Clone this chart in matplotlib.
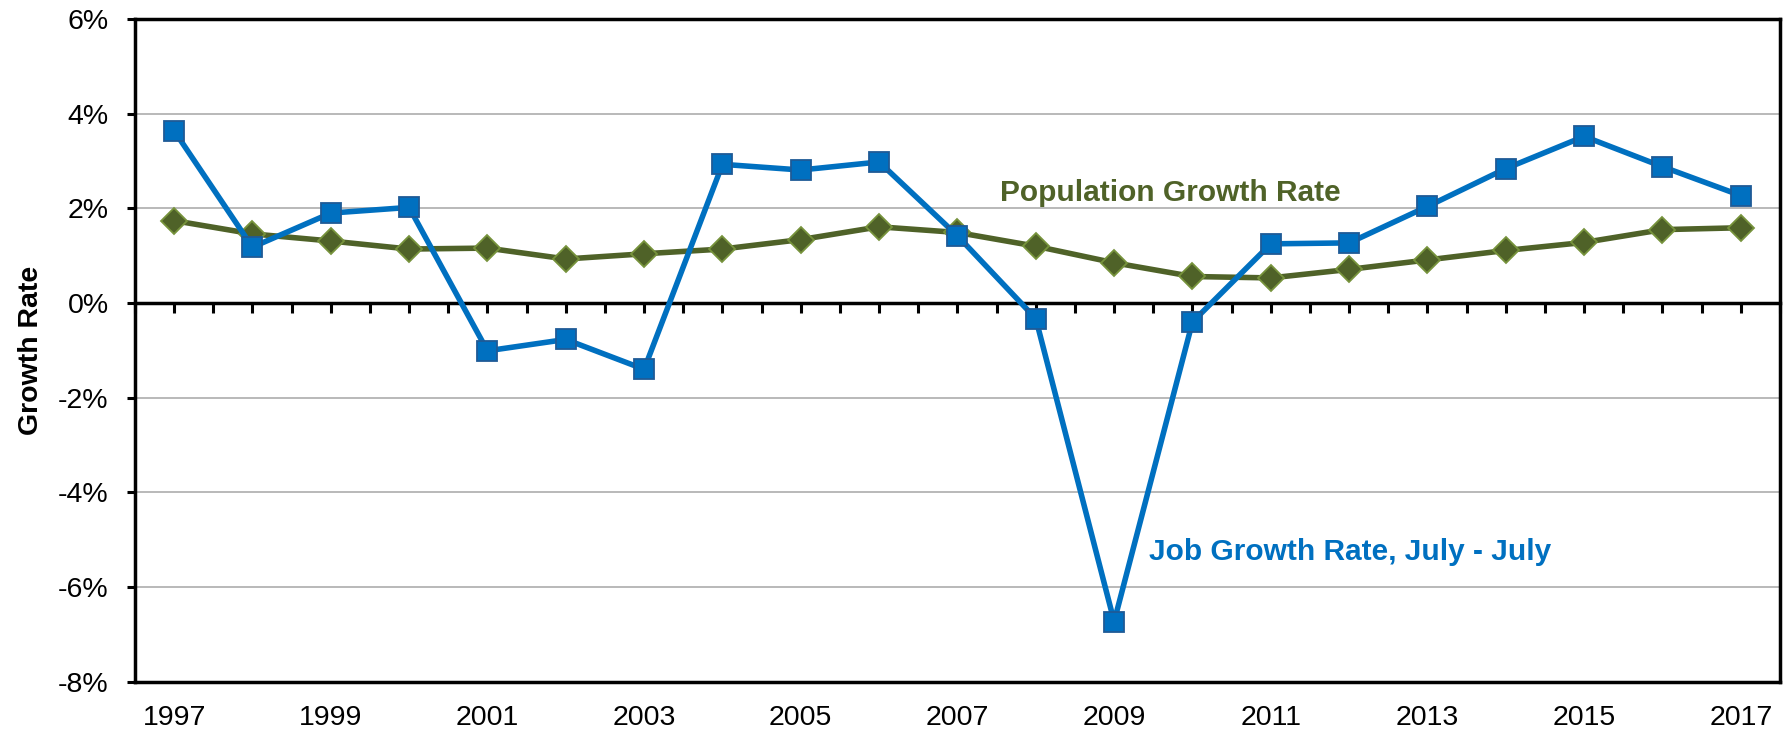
import numpy as np
import matplotlib
matplotlib.use("Agg")
import matplotlib.pyplot as plt
from matplotlib.ticker import PercentFormatter, MultipleLocator

plt.rcParams['font.family'] = ['Liberation Sans', 'DejaVu Sans']
plt.rcParams['axes.unicode_minus'] = False

# Data (percent)
years = list(range(1997, 2018))
job_growth = [3.64, 1.18, 1.90, 2.02, -1.01, -0.77, -1.40, 2.93, 2.81, 2.98, 1.42,
              -0.33, -6.73, -0.40, 1.25, 1.27, 2.04, 2.84, 3.52, 2.88, 2.27]
pop_growth = [1.74, 1.46, 1.31, 1.14, 1.16, 0.93, 1.04, 1.14, 1.34, 1.61, 1.49,
              1.20, 0.85, 0.56, 0.53, 0.71, 0.91, 1.11, 1.28, 1.55, 1.59]
y_ticks = [-8, -6, -4, -2, 0, 2, 4, 6]

blue = '#0070C0'
green = '#4F6228'

fig = plt.figure(figsize=(17.92, 7.34), dpi=100)
ax = fig.add_axes([0.0753, 0.0713, 0.918, 0.9028])

x = np.arange(len(years))

# Population first so the job series sits on top
ax.plot(x, pop_growth, color=green, linewidth=4, marker='D', markersize=13,
        markerfacecolor=green, markeredgecolor='#77933C', markeredgewidth=1.3, zorder=3)
ax.plot(x, job_growth, color=blue, linewidth=4, marker='s', markersize=14.5,
        markerfacecolor=blue, markeredgecolor='#1F5A96', markeredgewidth=1.3, zorder=4)

ax.set_xlim(-0.5, len(years) - 0.5)
ax.set_ylim(min(y_ticks), max(y_ticks))
ax.set_yticks(y_ticks)
ax.yaxis.set_major_formatter(PercentFormatter(decimals=0))
ax.grid(axis='y', color='#B3B3B3', linewidth=1.3)
ax.set_axisbelow(True)
# the zero line is drawn in black below, hide its grey gridline
ax.yaxis.get_gridlines()[y_ticks.index(0)].set_visible(False)

# odd years labelled at the bottom, no tick marks there
ax.set_xticks(x[::2])
ax.set_xticklabels([str(y) for y in years[::2]])
ax.tick_params(axis='x', length=0, pad=17, labelsize=20.5)
ax.tick_params(axis='y', length=6, width=2.2, pad=13, labelsize=20.5)

for s in ax.spines.values():
    s.set_linewidth(2.5)
    s.set_color('black')

# zero line carrying the half-category tick marks (pointing down)
zero_loc = (0 - min(y_ticks)) / (max(y_ticks) - min(y_ticks))
sec = ax.secondary_xaxis(zero_loc)
sec.xaxis.set_major_locator(MultipleLocator(0.5))
sec.tick_params(axis='x', direction='in', length=7, width=2.2,
                labelbottom=False, labeltop=False)
for s in sec.spines.values():
    s.set_linewidth(2.5)

ax.set_ylabel('Growth Rate', fontsize=20.5, fontweight='bold', labelpad=10)

ax.text(12.72, 2.33, 'Population Growth Rate', color=green, fontsize=21.5,
        fontweight='bold', ha='center', va='center')
ax.text(12.44, -5.25, 'Job Growth Rate, July - July', color=blue, fontsize=21.5,
        fontweight='bold', ha='left', va='center')

plt.savefig('out.png', dpi=100)
